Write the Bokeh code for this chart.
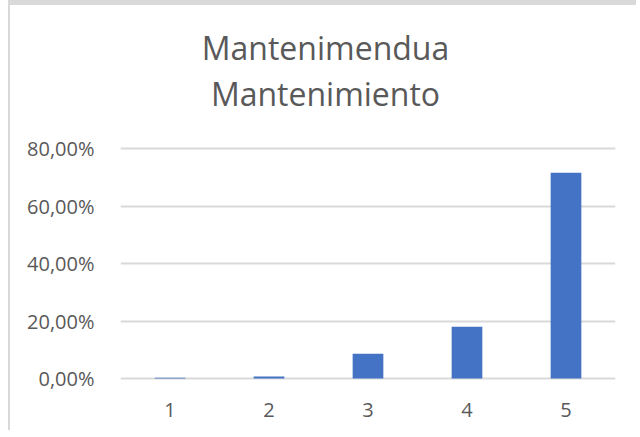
from bokeh.plotting import figure
from bokeh.models import FixedTicker, CustomJSTickFormatter
from bokeh.embed import file_html
from bokeh.resources import INLINE
from bokeh.core.properties import value

categories = [1, 2, 3, 4, 5]
percentages = [0.3, 0.7, 8.6, 18.0, 71.6]
y_ticks = [0, 20, 40, 60, 80]
title_lines = ["Mantenimendua", "Mantenimiento"]

FONT = "Open Sans"
GRAY_TEXT = "#595959"
GRID = "#d9d9d9"
BAR = "#4472C4"

# canvas geometry (pixels)
W, H = 628, 430
F_LEFT, F_RIGHT, F_TOP, F_BOTTOM = 110, 605, 5, 375   # frame edges inside canvas
GRID_TOP_PX, GRID_BOTTOM_PX = 143, 373                 # 80% and 0% gridlines
px_per_unit = (GRID_BOTTOM_PX - GRID_TOP_PX) / 80.0
y_start = -(F_BOTTOM - GRID_BOTTOM_PX) / px_per_unit
y_end = (GRID_BOTTOM_PX - F_TOP) / px_per_unit

p = figure(width=W, height=H, output_backend="svg", toolbar_location=None,
           x_range=(0.5, 5.5), y_range=(y_start, y_end),
           min_border_left=F_LEFT, min_border_right=W - F_RIGHT,
           min_border_top=F_TOP, min_border_bottom=H - F_BOTTOM)
p.styles = {"margin-left": "8px",
            "border-left": "2px solid #d9d9d9",
            "border-top": "5px solid #d9d9d9"}

p.vbar(x=categories, top=percentages, bottom=0, width=0.31, color=BAR, line_color=None)

p.outline_line_color = None
p.background_fill_color = "white"
p.border_fill_color = "white"

p.xgrid.grid_line_color = None
p.ygrid.grid_line_color = GRID
p.ygrid.grid_line_width = 2
p.ygrid.ticker = FixedTicker(ticks=y_ticks)
p.ygrid.level = "underlay"

p.yaxis.ticker = FixedTicker(ticks=y_ticks)
p.yaxis.formatter = CustomJSTickFormatter(code="return tick.toFixed(2).replace('.', ',') + '%';")
p.xaxis.ticker = FixedTicker(ticks=categories)

for ax in (p.xaxis, p.yaxis):
    ax.axis_line_color = None
    ax.major_tick_line_color = None
    ax.minor_tick_line_color = None
    ax.major_label_text_font = FONT
    ax.major_label_text_font_size = "20px"
    ax.major_label_text_color = GRAY_TEXT
p.yaxis.major_label_standoff = 20
p.xaxis.major_label_standoff = 16

# two-line title, centered over the chart area
px_per_x = (F_RIGHT - F_LEFT) / 5.0
title_cx = 0.5 + (315 - F_LEFT) / px_per_x
title_baselines_px = [42, 88]
p.text(x=[title_cx] * len(title_lines),
       y=[(GRID_BOTTOM_PX - b) / px_per_unit for b in title_baselines_px],
       text=title_lines, text_align="center", text_baseline="alphabetic",
       text_font=value(FONT), text_font_size="32px", text_color=GRAY_TEXT)

open("out.html", "w").write(file_html(p, INLINE))
